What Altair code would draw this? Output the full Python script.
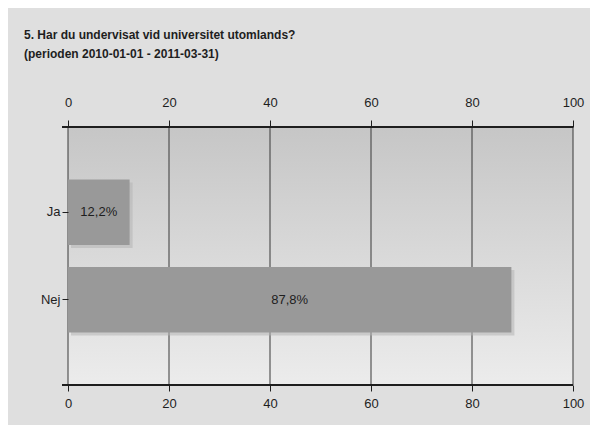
import altair as alt
import pandas as pd

# ---- data ----
categories = ["Ja", "Nej"]
values = [12.2, 87.8]
value_labels = ["12,2%", "87,8%"]
ticks = [0, 20, 40, 60, 80, 100]
title_lines = [
    "5. Har du undervisat vid universitet utomlands?",
    "(perioden 2010-01-01 - 2011-03-31)",
]

bars_df = pd.DataFrame({"svar": categories, "procent": values, "etikett": value_labels})
grid_df = pd.DataFrame({"t": ticks})
one_df = pd.DataFrame({"a": [0]})

W, H = 505, 258
FONT = "Liberation Sans, Arial, sans-serif"
INK = "#1e1e1e"

xscale = alt.Scale(domain=[0, 100], nice=False)
yscale = alt.Scale(domain=categories, paddingInner=0.25, paddingOuter=0.6)

y_axis = alt.Axis(title=None, domain=False, tickSize=6, tickColor=INK, labelPadding=2,
                  labelFont=FONT, labelFontSize=13, labelColor=INK, zindex=1)


def y_enc():
    return alt.Y("svar:N", scale=yscale, axis=y_axis)


# plot-area background gradient
bg = alt.Chart(one_df).mark_rect(
    color=alt.LinearGradient(
        gradient="linear",
        stops=[alt.GradientStop(color="#c6c6c6", offset=0),
               alt.GradientStop(color="#ececec", offset=1)],
        x1=0, x2=0, y1=0, y2=1,
    )
).encode(x=alt.value(0), x2=alt.value(W), y=alt.value(0), y2=alt.value(H))

# vertical grid lines (carry the top axis)
grid = alt.Chart(grid_df).mark_rule(color="#383838", strokeWidth=1).encode(
    x=alt.X(
        "t:Q", scale=xscale,
        axis=alt.Axis(orient="top", values=ticks, title=None, grid=False, domain=False,
                      tickSize=7, tickColor=INK, labelPadding=11, zindex=1, labelFlush=False,
                      labelFont=FONT, labelFontSize=13, labelColor=INK),
    )
)

# bar shadow
shadow = alt.Chart(bars_df).mark_bar(color="#b4b4b4", opacity=0.55, xOffset=3, yOffset=3).encode(
    x=alt.X("procent:Q", scale=xscale, axis=None),
    y=y_enc(),
)

bars = alt.Chart(bars_df).mark_bar(color="#999999").encode(
    x=alt.X(
        "procent:Q", scale=xscale,
        axis=alt.Axis(orient="bottom", values=ticks, title=None, grid=False, domain=False,
                      tickSize=6, tickColor=INK, labelPadding=6, zindex=1, labelFlush=False,
                      labelFont=FONT, labelFontSize=13, labelColor=INK),
    ),
    y=y_enc(),
)

text = alt.Chart(bars_df).transform_calculate(mid="datum.procent / 2").mark_text(
    font=FONT, fontSize=13, color=INK
).encode(
    x=alt.X("mid:Q", scale=xscale, axis=None),
    y=y_enc(),
    text="etikett:N",
)

top_line = alt.Chart(one_df).mark_rule(color=INK, strokeWidth=2).encode(
    x=alt.value(-6), x2=alt.value(W), y=alt.value(0)
)
bottom_line = alt.Chart(one_df).mark_rule(color=INK, strokeWidth=2).encode(
    x=alt.value(-6), x2=alt.value(W), y=alt.value(H)
)

chart = (
    alt.layer(bg, grid, shadow, bars, text, top_line, bottom_line)
    .resolve_axis(x="independent")
    .properties(
        width=W, height=H,
        padding={"left": 60, "top": 119, "right": 17, "bottom": 40},
        autosize=alt.AutoSizeParams(type="none"),
        title=alt.TitleParams(
            text=title_lines, anchor="start", frame="group", dx=-44, dy=-31,
            font=FONT, fontSize=12, fontWeight="bold", color=INK, lineHeight=19,
        ),
        background="#dfdfdf",
    )
    .configure_view(stroke=None)
)

chart.save("out.html", embed_options={"renderer": "svg", "actions": False})
